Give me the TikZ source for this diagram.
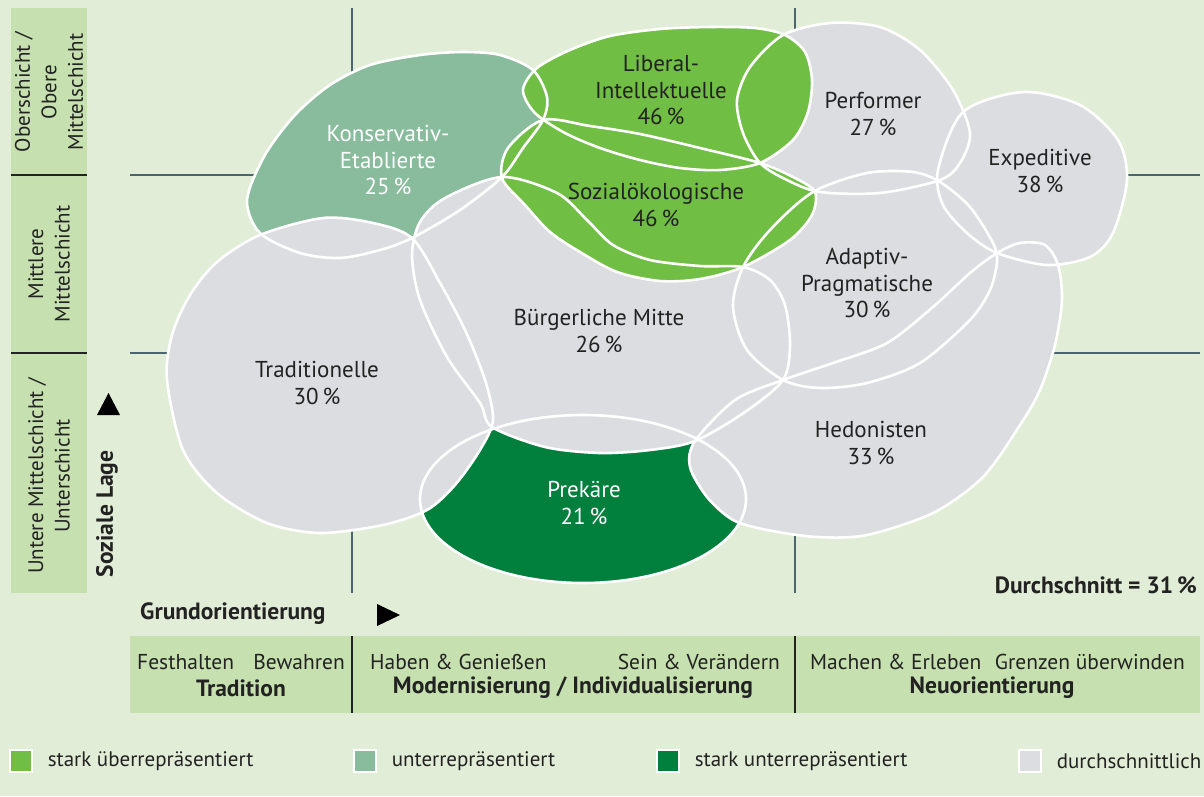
\documentclass[tikz,border=0pt]{standalone}
\usepackage{fontspec}
\setmainfont{PT Sans}
\usepackage{tikz}
\usetikzlibrary{positioning}

\definecolor{bggreen}{HTML}{E1EDD6}
\definecolor{boxgreen}{HTML}{C6E0B0}
\definecolor{highgreen}{HTML}{70BE44}
\definecolor{lowgreen}{HTML}{88BC9C}
\definecolor{verylowgreen}{HTML}{007F3D}
\definecolor{milieugrey}{HTML}{DCDDE0}
\definecolor{gridslate}{HTML}{4C6470}
\definecolor{textgrey}{HTML}{222222}

\begin{document}
\begin{tikzpicture}[x=1pt, y=-1pt,
  outline/.style={draw=white, line width=2.6pt},
  gridline/.style={draw=gridslate, line width=2.6pt},
  milieu/.style={font=\labelfontsize, align=center, text=textgrey, inner sep=0pt},
  milieuwhite/.style={milieu, text=white},
  sidelabel/.style={font=\sidefontsize, align=center, text=textgrey, inner sep=0pt, rotate=90},
  axislabel/.style={font=\boldfontsize\bfseries, text=textgrey, inner sep=0pt},
  rowtext/.style={font=\rowfontsize, text=textgrey, inner sep=0pt},
  legendbox/.style={draw=white, line width=1.2pt, minimum size=22pt, inner sep=0pt},
  legendtext/.style={font=\sidefontsize, text=textgrey, inner sep=0pt}]
\def\labelfontsize{\fontsize{23}{26.5}\selectfont}
\def\sidefontsize{\fontsize{21}{26.5}\selectfont}
\def\rowfontsize{\fontsize{21.5}{26}\selectfont}
\def\boldfontsize{\fontsize{23.5}{27}\selectfont}

% BACKGROUND
\fill[bggreen] (0,0) rectangle (1204,796);
\useasboundingbox (0,0) rectangle (1204,796);

\begin{scope} % LEFT COLUMN
\fill[boxgreen] (11,8) rectangle (87,593);
\draw[textgrey, line width=1.5pt] (11,175) -- (87,175);
\draw[textgrey, line width=1.5pt] (11,353) -- (87,353);
\node[sidelabel] (oben) at (49,92) {Oberschicht /\\Obere\\Mittelschicht};
\node[sidelabel] (mitte) at (49,264) {Mittlere\\Mittelschicht};
\node[sidelabel] (unten) at (49,476) {Untere Mittelschicht /\\Unterschicht};
\node[axislabel, rotate=90] (lage) at (107,514) {Soziale Lage};
\fill[black] (97,415) -- (120,415) -- (108.5,393) -- cycle;
\end{scope}

% GRID
\draw[gridline] (130,175) -- (1200,175);
\draw[gridline] (130,353) -- (1200,353);
\draw[gridline] (352,8) -- (352,593);
\draw[gridline] (795,8) -- (795,593);

% MILIEU SHAPES
\def\prekaer#1{\path[#1] (583,499) ellipse [x radius=163pt, y radius=84pt];}
\def\konservativ#1{\path[#1] plot[smooth cycle] coordinates {(247,200) (260,233) (300,253) (340,258) (380,250) (412,238) (460,210) (502,177) (523,148) (543,120) (547,97) (533,70) (500,55) (463,52) (420,55) (370,65) (330,85) (295,115) (265,155)};}
\def\traditionell#1{\path[#1] plot[smooth cycle] coordinates {(167,380) (172,335) (190,295) (217,262) (260,235) (323,218) (373,223) (412,238) (440,283) (465,330) (485,380) (493,420) (480,450) (455,485) (427,510) (383,525) (320,533) (267,523) (217,493) (183,450)};}
\def\buergerlich#1{\path[#1] plot[smooth cycle] coordinates {(502,177) (557,193) (587,220) (613,245) (650,260) (700,266) (743,267) (770,280) (785,305) (790,345) (783,380) (745,412) (695,441) (650,450) (600,453) (545,447) (492,427) (480,403) (447,357) (420,300) (412,255) (420,222) (445,198)};}
\def\liberal#1{\path[#1] plot[smooth cycle] coordinates {(523,90) (537,68) (570,50) (610,36) (660,29) (710,27) (755,28) (785,35) (805,52) (812,80) (808,112) (793,140) (760,163) (720,170) (680,168) (640,160) (600,148) (565,133) (535,113)};}
\def\sozial#1{\path[#1] plot[smooth cycle] coordinates {(543,120) (590,126) (640,134) (700,148) (760,163) (795,178) (815,192) (812,215) (790,240) (743,267) (700,279) (660,281) (617,272) (580,252) (550,232) (525,205) (502,178) (508,148)};}
\def\performer#1{\path[#1] plot[smooth cycle] coordinates {(760,163) (743,133) (737,100) (750,67) (783,35) (830,23) (880,27) (920,50) (953,90) (970,133) (960,163) (940,180) (880,193) (820,192) (787,180)};}
\def\expeditiv#1{\path[#1] plot[smooth cycle] coordinates {(938,170) (963,112) (1023,92) (1080,105) (1118,140) (1127,180) (1113,233) (1090,257) (1047,265) (997,253) (967,233) (943,205)};}
\def\adaptiv#1{\path[#1] plot[smooth cycle] coordinates {(743,267) (770,230) (813,192) (867,173) (913,172) (940,182) (970,207) (993,243) (997,262) (990,290) (970,320) (920,363) (867,383) (820,388) (783,380) (747,350) (733,307)};}
\def\hedonist#1{\path[#1] plot[smooth cycle] coordinates {(695,441) (735,400) (783,380) (833,363) (887,343) (933,307) (970,273) (997,253) (1020,243) (1045,245) (1058,265) (1062,300) (1055,345) (1040,390) (1020,425) (983,477) (933,513) (867,535) (817,537) (767,530) (733,520) (707,497) (690,467)};}

% fills, lowest first
\prekaer{fill=verylowgreen}
\konservativ{fill=lowgreen}
\traditionell{fill=milieugrey}
\buergerlich{fill=milieugrey}
\hedonist{fill=milieugrey}
\adaptiv{fill=milieugrey}
\performer{fill=milieugrey}
\expeditiv{fill=milieugrey}
\liberal{fill=highgreen}
\sozial{fill=highgreen}

% white outlines on top
\prekaer{outline}
\konservativ{outline}
\traditionell{outline}
\buergerlich{outline}
\hedonist{outline}
\adaptiv{outline}
\performer{outline}
\expeditiv{outline}
\liberal{outline}
\sozial{outline}

% LABELS
\node[milieuwhite] (konservativlabel) at (388,160) {Konservativ-\\Etablierte\\25\,\%};
\node[milieu] (liberallabel) at (661,90) {Liberal-\\Intellektuelle\\46\,\%};
\node[milieu] (soziallabel) at (656,205) {Sozialökologische\\46\,\%};
\node[milieu] (performerlabel) at (873,114) {Performer\\27\,\%};
\node[milieu] (expeditivlabel) at (1040,171) {Expeditive\\38\,\%};
\node[milieu] (adaptivlabel) at (867,283) {Adaptiv-\\Pragmatische\\30\,\%};
\node[milieu] (buergerlichlabel) at (599,331) {Bürgerliche Mitte\\26\,\%};
\node[milieu] (traditionelllabel) at (317,383) {Traditionelle\\30\,\%};
\node[milieuwhite] (prekaerlabel) at (584,503) {Prekäre\\21\,\%};
\node[milieu] (hedonistlabel) at (871,443) {Hedonisten\\33\,\%};
\node[axislabel, anchor=east] (schnitt) at (1197,585) {Durchschnitt = 31\,\%};

\begin{scope} % GRUNDORIENTIERUNG
\node[axislabel, anchor=west] (grund) at (140,614) {Grundorientierung};
\fill[black] (377,604) -- (377,626) -- (400,615) -- cycle;
\fill[boxgreen] (130,636) rectangle (1200,713);
\draw[textgrey, line width=1.5pt] (352,636) -- (352,713);
\draw[textgrey, line width=1.5pt] (795,636) -- (795,713);
\node[rowtext, anchor=west] (festhalten) at (137,662) {Festhalten};
\node[rowtext, anchor=east] (bewahren) at (345,662) {Bewahren};
\node[rowtext, anchor=west] (haben) at (370,662) {Haben \& Genießen};
\node[rowtext, anchor=east] (sein) at (780,662) {Sein \& Verändern};
\node[rowtext, anchor=west] (machen) at (810,662) {Machen \& Erleben};
\node[rowtext, anchor=east] (grenzen) at (1185,662) {Grenzen überwinden};
\node[axislabel] (tradition) at (241,688) {Tradition};
\node[axislabel] (modern) at (573,688) {Modernisierung / Individualisierung};
\node[axislabel] (neu) at (992,688) {Neuorientierung};
\end{scope}

\begin{scope} % LEGEND
\node[legendbox, fill=highgreen] (keyhigh) at (21,761) {};
\node[legendtext, right=15pt of keyhigh] (keyhightext) {stark überrepräsentiert};
\node[legendbox, fill=lowgreen] (keylow) at (365,761) {};
\node[legendtext, right=15pt of keylow] (keylowtext) {unterrepräsentiert};
\node[legendbox, fill=verylowgreen] (keyverylow) at (668,761) {};
\node[legendtext, right=15pt of keyverylow] (keyverylowtext) {stark unterrepräsentiert};
\node[legendbox, fill=milieugrey] (keyavg) at (1030,761) {};
\node[legendtext, right=15pt of keyavg] (keyavgtext) {durchschnittlich};
\end{scope}
\end{tikzpicture}
\end{document}
